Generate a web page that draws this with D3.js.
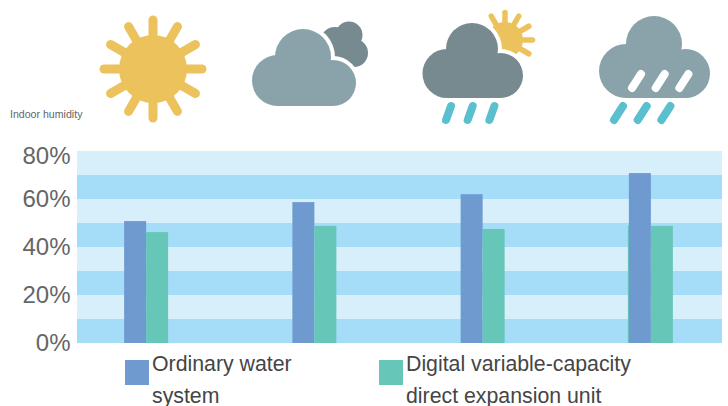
<!DOCTYPE html>
<html>
<head>
<meta charset="utf-8">
<title>Indoor humidity</title>
<script src="https://cdn.jsdelivr.net/npm/d3@7"></script>
<style>
    html, body { margin: 0; padding: 0; background: #fff; }
    svg { display: block; font-family: "Liberation Sans", Arial, sans-serif; }
</style>
</head>
<body>
<div id="chart"></div>
<script>
var weather = [ 'sunny', 'cloudy', 'shower', 'rain' ];
var seriesNames = [ 'water', 'digital' ];
var waterValues = [ 50.8, 58.7, 62, 70.8 ];
var digitalValues = [ 46.2, 48.8, 47.5, 48.8 ];
var yTicks = [ 0, 20, 40, 60, 80 ];
var bandStarts = [ 0, 10, 20, 30, 40, 50, 60, 70 ];
var legendLines = [
    [ 'Ordinary water', 'system' ],
    [ 'Digital variable-capacity', 'direct expansion unit' ]
];

var COLORS = {
    water: '#6F9AD0',
    digital: '#66C6B7',
    bandDark: '#A5DDF9',
    bandLight: '#D6EFFB',
    sun: '#ECC25C',
    cloud: '#8AA3AB',
    cloudDark: '#768A90',
    drop: '#5ABFCE',
    axisText: '#666666',
    legendText: '#454545'
};

var width = 728,
    height = 406,
    plot = { left: 77, right: 722, top: 151, bottom: 343 };

var svg = d3.select( '#chart' )
    .append( 'svg' )
    .attr( 'width', width )
    .attr( 'height', height );

var y = d3.scaleLinear().domain( [ 0, 80 ] ).range( [ plot.bottom, plot.top ] );
var x0 = d3.scaleBand().domain( weather ).range( [ 62, 735 ] );
var x1 = d3.scaleBand().domain( seriesNames ).range( [ 0, 44 ] );

// background stripes
svg.append( 'g' )
    .selectAll( 'rect' )
    .data( bandStarts )
    .join( 'rect' )
    .attr( 'x', plot.left )
    .attr( 'y', function ( d ) { return y( d + 10 ); } )
    .attr( 'width', plot.right - plot.left )
    .attr( 'height', function ( d ) { return y( d ) - y( d + 10 ); } )
    .attr( 'fill', function ( d, i ) { return i % 2 ? COLORS.bandLight : COLORS.bandDark; } );

// bars
var barOffset = function ( name ) {
    return function ( d, i ) {
        return x0( weather[ i ] ) + x0.bandwidth() / 2 - 22 + x1( name );
    };
};

// the last green bar sticks out a pixel on the left of the blue one
svg.append( 'rect' )
    .attr( 'x', x0( 'rain' ) + x0.bandwidth() / 2 - 23 )
    .attr( 'y', y( digitalValues[ 3 ] ) )
    .attr( 'width', 4 )
    .attr( 'height', y( 0 ) - y( digitalValues[ 3 ] ) )
    .attr( 'fill', COLORS.digital );

svg.append( 'g' )
    .selectAll( 'rect' )
    .data( waterValues )
    .join( 'rect' )
    .attr( 'x', barOffset( 'water' ) )
    .attr( 'y', function ( d ) { return y( d ); } )
    .attr( 'width', x1.bandwidth() )
    .attr( 'height', function ( d ) { return y( 0 ) - y( d ); } )
    .attr( 'fill', COLORS.water );

svg.append( 'g' )
    .selectAll( 'rect' )
    .data( digitalValues )
    .join( 'rect' )
    .attr( 'x', barOffset( 'digital' ) )
    .attr( 'y', function ( d ) { return y( d ); } )
    .attr( 'width', x1.bandwidth() )
    .attr( 'height', function ( d ) { return y( 0 ) - y( d ); } )
    .attr( 'fill', COLORS.digital );

// y axis
var yAxis = d3.axisLeft( y )
    .tickValues( yTicks )
    .tickSize( 0 )
    .tickPadding( 6.5 )
    .tickFormat( function ( d ) { return d + '%'; } );

var axisGrp = svg.append( 'g' )
    .attr( 'transform', 'translate(' + plot.left + ',0)' )
    .call( yAxis );
axisGrp.select( '.domain' ).remove();
axisGrp.selectAll( 'text' )
    .attr( 'font-size', 24 )
    .attr( 'font-family', '"Liberation Sans", Arial, sans-serif' )
    .attr( 'fill', COLORS.axisText )
    .attr( 'dy', function ( d ) { return d === 80 ? '0.5em' : '0.3em'; } );

svg.append( 'text' )
    .attr( 'x', 10 )
    .attr( 'y', 118 )
    .attr( 'font-size', 10.6 )
    .attr( 'fill', COLORS.axisText )
    .text( 'Indoor humidity' );

// legend
var legendX = [ 125, 379 ];
var legend = svg.append( 'g' )
    .selectAll( 'g' )
    .data( seriesNames )
    .join( 'g' )
    .attr( 'transform', function ( d, i ) { return 'translate(' + legendX[ i ] + ',360)'; } );

legend.append( 'rect' )
    .attr( 'width', 24 )
    .attr( 'height', 25 )
    .attr( 'fill', function ( d ) { return COLORS[ d ]; } );

legend.each( function ( d, i ) {
    d3.select( this )
        .selectAll( 'text' )
        .data( legendLines[ i ] )
        .join( 'text' )
        .attr( 'x', 27 )
        .attr( 'y', function ( line, j ) { return 11 + j * 32; } )
        .attr( 'font-size', 21.3 )
        .attr( 'fill', COLORS.legendText )
        .text( function ( line ) { return line; } );
} );

// weather icons
var drawSun = function ( cx, cy, bodyR, rayR, rayW, angles ) {
    var g = svg.append( 'g' ).attr( 'transform', 'translate(' + cx + ',' + cy + ')' );
    g.selectAll( 'line' )
        .data( angles )
        .join( 'line' )
        .attr( 'x1', 0 )
        .attr( 'y1', 0 )
        .attr( 'x2', function ( a ) { return Math.sin( a * Math.PI / 180 ) * rayR; } )
        .attr( 'y2', function ( a ) { return -Math.cos( a * Math.PI / 180 ) * rayR; } )
        .attr( 'stroke', COLORS.sun )
        .attr( 'stroke-width', rayW )
        .attr( 'stroke-linecap', 'round' );
    g.append( 'circle' ).attr( 'r', bodyR ).attr( 'fill', COLORS.sun );
};

// circles + a base block, with an optional white halo behind it
var drawCloud = function ( circles, base, color, halo ) {
    var g = svg.append( 'g' );
    if ( halo ) {
        g.selectAll( 'circle.halo' )
            .data( circles )
            .join( 'circle' )
            .attr( 'class', 'halo' )
            .attr( 'cx', function ( c ) { return c[ 0 ]; } )
            .attr( 'cy', function ( c ) { return c[ 1 ]; } )
            .attr( 'r', function ( c ) { return c[ 2 ] + halo; } )
            .attr( 'fill', '#fff' );
    }
    g.selectAll( 'circle.body' )
        .data( circles )
        .join( 'circle' )
        .attr( 'class', 'body' )
        .attr( 'cx', function ( c ) { return c[ 0 ]; } )
        .attr( 'cy', function ( c ) { return c[ 1 ]; } )
        .attr( 'r', function ( c ) { return c[ 2 ]; } )
        .attr( 'fill', color );
    if ( base ) {
        g.append( 'rect' )
            .attr( 'x', base[ 0 ] )
            .attr( 'y', base[ 1 ] )
            .attr( 'width', base[ 2 ] )
            .attr( 'height', base[ 3 ] )
            .attr( 'fill', color );
    }
};

var drawDrops = function ( x, yBottom, dx, dy, gap, color ) {
    svg.append( 'g' )
        .selectAll( 'line' )
        .data( [ 0, 1, 2 ] )
        .join( 'line' )
        .attr( 'x1', function ( i ) { return x + i * gap; } )
        .attr( 'y1', yBottom )
        .attr( 'x2', function ( i ) { return x + i * gap + dx; } )
        .attr( 'y2', yBottom - dy )
        .attr( 'stroke', color )
        .attr( 'stroke-width', 8 )
        .attr( 'stroke-linecap', 'round' );
};

drawSun( 153, 69, 34, 49, 9, [ 0, 30, 60, 90, 120, 150, 180, 210, 240, 270, 300, 330 ] );

drawCloud( [ [ 335, 42, 15 ], [ 349, 35, 13.5 ], [ 354, 53, 14 ], [ 345, 50, 14 ] ], null, COLORS.cloudDark );
drawCloud( [ [ 303, 57, 28 ], [ 277.5, 80.5, 25.5 ], [ 333, 83, 23 ] ], [ 277, 70, 56, 36 ], COLORS.cloud, 4 );

drawSun( 505, 40, 18, 27.5, 5.5, [ -30, 0, 30, 60, 90, 120 ] );
drawCloud( [ [ 472, 49, 26 ], [ 447, 73.5, 24.5 ], [ 500.5, 75.5, 22.5 ] ], [ 447, 60, 54, 38 ], COLORS.cloudDark, 4 );
drawDrops( 446, 120, 5, 14, 21.7, COLORS.drop );

drawCloud( [ [ 654, 44, 28 ], [ 626, 71, 27 ], [ 685.5, 73.5, 24.5 ] ], [ 626, 60, 60, 38 ], COLORS.cloud );
drawDrops( 632, 88, 9, 14, 23.7, '#fff' );
drawDrops( 614, 120, 9, 14, 23.7, COLORS.drop );
</script>
</body>
</html>
